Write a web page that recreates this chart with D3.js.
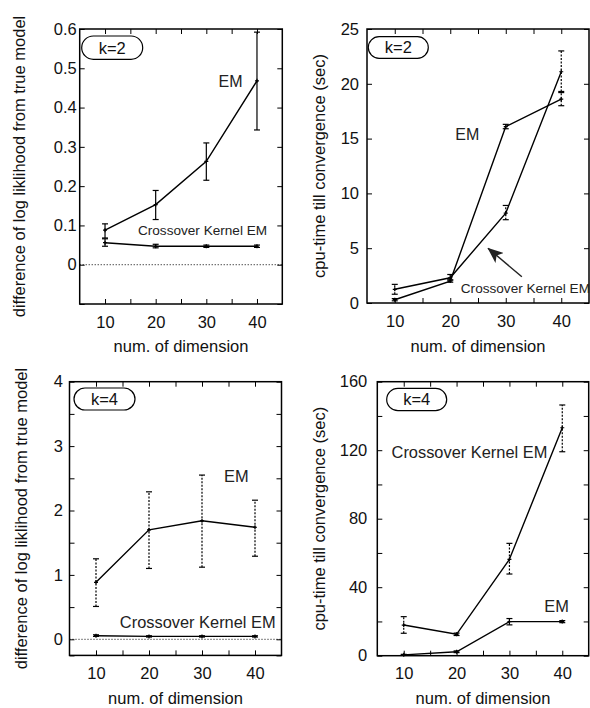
<!DOCTYPE html>
<html>
<head>
<meta charset="utf-8">
<script src="https://cdn.jsdelivr.net/npm/d3@7"></script>
<style>
  body { margin: 0; background: #fff; }
  svg { display: block; font-family: "Liberation Sans", Arial, Helvetica, sans-serif; }
</style>
</head>
<body>
<svg id="chart" width="590" height="708"></svg>
<script>
// x values shared by all four panels
var dims = [10, 20, 30, 40];
var xTicks = [10, 15, 20, 25, 30, 35, 40];
var xTickLabels = [10, 20, 30, 40];

// k=2, difference of log likelihood
var llK2Em = [0.088, 0.153, 0.263, 0.468];
var llK2EmLo = [0.068, 0.115, 0.215, 0.343];
var llK2EmHi = [0.104, 0.189, 0.31, 0.592];
var llK2Ck = [0.056, 0.047, 0.047, 0.047];
var llK2CkLo = [0.047, 0.043, 0.044, 0.044];
var llK2CkHi = [0.066, 0.052, 0.05, 0.05];
var llK2Ticks = [-0.1, 0, 0.1, 0.2, 0.3, 0.4, 0.5, 0.6];
var llK2TickLabels = [0, 0.1, 0.2, 0.3, 0.4, 0.5, 0.6];

// k=2, cpu time
var cpuK2Em = [0.3, 2.0, 16.1, 18.6];
var cpuK2EmLo = [0.2, 1.9, 15.9, 18.0];
var cpuK2EmHi = [0.4, 2.1, 16.3, 19.2];
var cpuK2Ck = [1.25, 2.3, 8.2, 21.1];
var cpuK2CkLo = [0.8, 2.1, 7.6, 19.3];
var cpuK2CkHi = [1.7, 2.6, 8.9, 23.0];
var cpuK2Ticks = [0, 5, 10, 15, 20, 25];
var cpuK2TickLabels = [0, 5, 10, 15, 20, 25];

// k=4, difference of log likelihood
var llK4Em = [0.885, 1.7, 1.84, 1.74];
var llK4EmLo = [0.51, 1.1, 1.12, 1.29];
var llK4EmHi = [1.25, 2.29, 2.55, 2.16];
var llK4Ck = [0.056, 0.045, 0.045, 0.045];
var llK4CkLo = [0.045, 0.035, 0.035, 0.035];
var llK4CkHi = [0.07, 0.055, 0.055, 0.055];
var llK4Ticks = [-0.25, 0, 0.5, 1, 1.5, 2, 2.5, 3, 3.5, 4];
var llK4TickLabels = [0, 1, 2, 3, 4];

// k=4, cpu time
var cpuK4Em = [0.5, 2.3, 19.9, 19.9];
var cpuK4EmLo = [0.3, 1.8, 18.0, 19.3];
var cpuK4EmHi = [0.8, 2.8, 21.7, 20.5];
var cpuK4Ck = [17.9, 12.5, 56.3, 133.1];
var cpuK4CkLo = [13.1, 11.8, 47.7, 119.1];
var cpuK4CkHi = [22.8, 13.2, 65.6, 146.4];
var cpuK4Ticks = [0, 20, 40, 60, 80, 100, 120, 140, 160];
var cpuK4TickLabels = [0, 40, 80, 120, 160];

var llLabel = "difference of log liklihood from true model";
var cpuLabel = "cpu-time till convergence (sec)";
var xLabel = "num. of dimension";

var panels = [
  {
    box: [79.7, 29, 282.3, 304], yDomain: [-0.1, 0.6], yTicks: llK2Ticks, yTickLabels: llK2TickLabels,
    yPad: 3, yLabel: llLabel, yLabelX: 25, xLabelY: 352, k: "k=2", kBox: [2, 7, 63, 30.3],
    zeroLine: true,
    series: [
      { v: llK2Em, lo: llK2EmLo, hi: llK2EmHi, dash: null },
      { v: llK2Ck, lo: llK2CkLo, hi: llK2CkHi, dash: null }
    ],
    notes: [
      { text: "EM", x: 32.4, y: 0.452, size: 16 },
      { text: "Crossover Kernel EM", x: 16.5, y: 0.076, size: 13.6 }
    ]
  },
  {
    box: [367, 29, 589, 303], yDomain: [0, 25], yTicks: cpuK2Ticks, yTickLabels: cpuK2TickLabels,
    yPad: 8, yLabel: cpuLabel, yLabelX: 325, xLabelY: 352, k: "k=2", kBox: [1.3, 7.7, 61.3, 29.3],
    zeroLine: false,
    series: [
      { v: cpuK2Em, lo: cpuK2EmLo, hi: cpuK2EmHi, dash: "2,1.5" },
      { v: cpuK2Ck, lo: cpuK2CkLo, hi: cpuK2CkHi, dash: "2,1.5" }
    ],
    notes: [
      { text: "EM", x: 20.9, y: 14.9, size: 16 },
      { text: "Crossover Kernel EM", x: 21.9, y: 0.9, size: 13.6 }
    ],
    arrow: { from: [32.9, 2.4], to: [26.8, 5.0] }
  },
  {
    box: [69.5, 381.7, 281.5, 655.4], yDomain: [-0.25, 4], yTicks: llK4Ticks, yTickLabels: llK4TickLabels,
    yPad: 6.5, yLabel: llLabel, yLabelX: 27, xLabelY: 704, k: "k=4", kBox: [4.5, 6.3, 65.5, 28.3],
    zeroLine: true,
    series: [
      { v: llK4Em, lo: llK4EmLo, hi: llK4EmHi, dash: "2,1.5" },
      { v: llK4Ck, lo: llK4CkLo, hi: llK4CkHi, dash: null }
    ],
    notes: [
      { text: "EM", x: 34.15, y: 2.45, size: 16.4 },
      { text: "Crossover Kernel EM", x: 14.5, y: 0.17, size: 16.4 }
    ]
  },
  {
    box: [377.3, 381.7, 588.7, 655.7], yDomain: [0, 160], yTicks: cpuK4Ticks, yTickLabels: cpuK4TickLabels,
    yPad: 10, yLabel: cpuLabel, yLabelX: 325, xLabelY: 704, k: "k=4", kBox: [9.4, 6.6, 69.4, 29],
    zeroLine: false,
    series: [
      { v: cpuK4Em, lo: cpuK4EmLo, hi: cpuK4EmHi, dash: null },
      { v: cpuK4Ck, lo: cpuK4CkLo, hi: cpuK4CkHi, dash: "2,1.5" }
    ],
    notes: [
      { text: "Crossover Kernel EM", x: 7.7, y: 115.3, size: 16.4 },
      { text: "EM", x: 36.6, y: 25.7, size: 16.4 }
    ]
  }
];

var svg = d3.select("#chart");
var fontSize = 16.5;
var tickLen = 5;

svg.append("defs").append("marker")
  .attr("id", "head")
  .attr("viewBox", "0 0 10 8")
  .attr("refX", 9.5).attr("refY", 4)
  .attr("markerWidth", 16).attr("markerHeight", 13)
  .attr("markerUnits", "userSpaceOnUse")
  .attr("orient", "auto")
  .append("path")
  .attr("d", "M0,0 L10,4 L0,8 L2.5,4 Z")
  .attr("fill", "#222");

panels.forEach(function (p) {
  var x0 = p.box[0], y0 = p.box[1], x1 = p.box[2], y1 = p.box[3];
  var x = d3.scaleLinear().domain([5, 45]).range([x0, x1]);
  var y = d3.scaleLinear().domain(p.yDomain).range([y1, y0]);
  var g = svg.append("g");

  function styleAxis(sel) {
    sel.select(".domain").remove();
    sel.selectAll("line").attr("stroke", "#000").attr("stroke-width", 1);
    sel.selectAll("text").attr("font-size", fontSize).attr("fill", "#111")
      .attr("font-family", "'Liberation Sans', Arial, Helvetica, sans-serif");
  }
  var fmtX = function (d) { return xTickLabels.indexOf(d) >= 0 ? d : ""; };
  var fmtY = function (d) { return p.yTickLabels.indexOf(d) >= 0 ? d : ""; };

  g.append("g").attr("transform", "translate(0," + y1 + ")")
    .call(d3.axisBottom(x).tickValues(xTicks).tickSizeInner(-tickLen).tickSizeOuter(0).tickPadding(12).tickFormat(fmtX))
    .call(styleAxis);
  g.append("g").attr("transform", "translate(0," + y0 + ")")
    .call(d3.axisTop(x).tickValues(xTicks).tickSizeInner(-tickLen).tickSizeOuter(0).tickFormat(""))
    .call(styleAxis);
  g.append("g").attr("transform", "translate(" + x0 + ",0)")
    .call(d3.axisLeft(y).tickValues(p.yTicks).tickSizeInner(-tickLen).tickSizeOuter(0).tickPadding(p.yPad).tickFormat(fmtY))
    .call(styleAxis);
  g.append("g").attr("transform", "translate(" + x1 + ",0)")
    .call(d3.axisRight(y).tickValues(p.yTicks).tickSizeInner(-tickLen).tickSizeOuter(0).tickFormat(""))
    .call(styleAxis);

  g.append("rect")
    .attr("x", x0).attr("y", y0).attr("width", x1 - x0).attr("height", y1 - y0)
    .attr("fill", "none").attr("stroke", "#000").attr("stroke-width", 1.5);

  if (p.zeroLine) {
    g.append("line")
      .attr("x1", x0).attr("x2", x1).attr("y1", y(0)).attr("y2", y(0))
      .attr("stroke", "#000").attr("stroke-width", 1).attr("stroke-dasharray", "1,2");
  }

  var line = d3.line().x(function (d) { return x(d[0]); }).y(function (d) { return y(d[1]); });

  p.series.forEach(function (s) {
    var pts = dims.map(function (d, i) { return [d, s.v[i], s.lo[i], s.hi[i]]; });
    g.append("path").attr("d", line(pts))
      .attr("fill", "none").attr("stroke", "#000").attr("stroke-width", 1.4);
    var eb = g.append("g").selectAll("g").data(pts).join("g");
    eb.append("line")
      .attr("x1", function (d) { return x(d[0]); }).attr("x2", function (d) { return x(d[0]); })
      .attr("y1", function (d) { return y(d[2]); }).attr("y2", function (d) { return y(d[3]); })
      .attr("stroke", "#000").attr("stroke-width", 1.2)
      .attr("stroke-dasharray", s.dash);
    [2, 3].forEach(function (k) {
      eb.append("line")
        .attr("x1", function (d) { return x(d[0]) - 3; }).attr("x2", function (d) { return x(d[0]) + 3; })
        .attr("y1", function (d) { return y(d[k]); }).attr("y2", function (d) { return y(d[k]); })
        .attr("stroke", "#000").attr("stroke-width", 1.2);
    });
    eb.append("path")
      .attr("d", function (d) {
        var cx = x(d[0]), cy = y(d[1]);
        return "M" + (cx - 2) + "," + cy + "H" + (cx + 2) + "M" + cx + "," + (cy - 2) + "V" + (cy + 2);
      })
      .attr("stroke", "#000").attr("stroke-width", 1.2);
  });

  p.notes.forEach(function (n) {
    g.append("text").attr("x", x(n.x)).attr("y", y(n.y))
      .attr("font-size", n.size).attr("fill", "#222").text(n.text);
  });

  if (p.arrow) {
    g.append("line")
      .attr("x1", x(p.arrow.from[0])).attr("y1", y(p.arrow.from[1]))
      .attr("x2", x(p.arrow.to[0])).attr("y2", y(p.arrow.to[1]))
      .attr("stroke", "#222").attr("stroke-width", 1.4)
      .attr("marker-end", "url(#head)");
  }

  // k label in rounded box
  var kb = p.kBox;
  g.append("rect")
    .attr("x", x0 + kb[0]).attr("y", y0 + kb[1])
    .attr("width", kb[2] - kb[0]).attr("height", kb[3] - kb[1])
    .attr("rx", (kb[3] - kb[1]) / 2)
    .attr("fill", "#fff").attr("stroke", "#000").attr("stroke-width", 1.2);
  g.append("text")
    .attr("x", x0 + (kb[0] + kb[2]) / 2).attr("y", y0 + (kb[1] + kb[3]) / 2)
    .attr("dy", "0.36em").attr("text-anchor", "middle")
    .attr("font-size", fontSize).attr("fill", "#111").text(p.k);

  // axis titles
  g.append("text")
    .attr("transform", "translate(" + p.yLabelX + "," + ((y0 + y1) / 2) + ") rotate(-90)")
    .attr("text-anchor", "middle").attr("font-size", fontSize).attr("fill", "#111")
    .text(p.yLabel);
  g.append("text")
    .attr("x", (x0 + x1) / 2).attr("y", p.xLabelY)
    .attr("text-anchor", "middle").attr("font-size", fontSize).attr("fill", "#111")
    .text(xLabel);
});
</script>
</body>
</html>
